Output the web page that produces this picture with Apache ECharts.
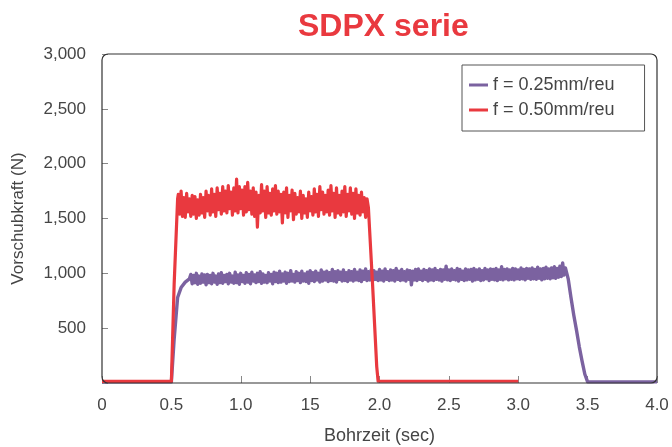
<!DOCTYPE html>
<html>
<head>
<meta charset="utf-8">
<script src="https://cdn.jsdelivr.net/npm/echarts@6/dist/echarts.min.js"></script>
<style>html,body{margin:0;padding:0;background:#fff}#c{width:672px;height:447px}</style>
</head>
<body>
<div id="c"></div>
<script>
var titleText = 'SDPX serie';
var seriesNames = ['f = 0.25mm/reu', 'f = 0.50mm/reu'];
var xTickLabels = ['0', '0.5', '1.0', '15', '2.0', '2.5', '3.0', '3.5', '4.0'];
var yTickValues = [0, 500, 1000, 1500, 2000, 2500, 3000];

// f = 0.50 mm/rev (red): [time s, force N]
var redData = [
[0,14],[0.5,14],[0.52,900],[0.545,1680],
[0.55,1720],[0.56,1540],[0.57,1750],[0.58,1520],[0.59,1690],
[0.60,1510],[0.61,1730],[0.62,1560],[0.63,1680],[0.64,1520],[0.65,1710],[0.66,1540],[0.67,1700],[0.68,1500],[0.69,1670],
[0.70,1530],[0.71,1720],[0.72,1550],[0.73,1690],[0.74,1510],[0.75,1750],[0.76,1570],[0.77,1710],[0.78,1530],[0.79,1770],
[0.80,1560],[0.81,1720],[0.82,1520],[0.83,1780],[0.84,1580],[0.85,1730],[0.86,1540],[0.87,1790],[0.88,1570],[0.89,1750],
[0.90,1550],[0.91,1800],[0.92,1590],[0.93,1740],[0.94,1530],[0.95,1780],[0.96,1570],[0.97,1860],[0.98,1550],[0.99,1790],
[1.00,1590],[1.01,1760],[1.02,1530],[1.03,1790],[1.04,1560],[1.05,1830],[1.06,1580],[1.07,1750],[1.08,1540],[1.09,1780],
[1.10,1520],[1.11,1740],[1.12,1420],[1.13,1710],[1.14,1550],[1.15,1810],[1.16,1570],[1.17,1750],[1.18,1510],[1.19,1790],
[1.20,1550],[1.21,1730],[1.22,1530],[1.23,1770],[1.24,1570],[1.25,1800],[1.26,1540],[1.27,1750],[1.28,1560],[1.29,1720],
[1.30,1460],[1.31,1740],[1.32,1550],[1.33,1780],[1.34,1510],[1.35,1710],[1.36,1570],[1.37,1760],[1.38,1490],[1.39,1730],
[1.40,1540],[1.41,1690],[1.42,1560],[1.43,1750],[1.44,1500],[1.45,1710],[1.46,1550],[1.47,1680],[1.48,1510],[1.49,1740],
[1.50,1570],[1.51,1700],[1.52,1530],[1.53,1770],[1.54,1560],[1.55,1720],[1.56,1520],[1.57,1790],[1.58,1580],[1.59,1740],
[1.60,1540],[1.61,1710],[1.62,1560],[1.63,1760],[1.64,1530],[1.65,1800],[1.66,1570],[1.67,1730],[1.68,1510],[1.69,1780],
[1.70,1550],[1.71,1710],[1.72,1530],[1.73,1750],[1.74,1560],[1.75,1790],[1.76,1520],[1.77,1720],[1.78,1570],[1.79,1780],
[1.80,1540],[1.81,1730],[1.82,1500],[1.83,1770],[1.84,1550],[1.85,1710],[1.86,1530],[1.87,1740],[1.88,1560],[1.89,1690],
[1.90,1510],[1.91,1680],
[1.92,1600],[1.95,900],[1.98,150],[1.99,16],[3.0,16]
];

// f = 0.25 mm/rev (purple): [time s, force N]
var purpleData = [
[0,10],[0.5,10],[0.52,400],[0.545,780],[0.57,870],[0.6,920],[0.63,950],
[0.64,990],[0.65,905],[0.66,980],[0.67,915],[0.68,1000],[0.69,900],
[0.70,975],[0.71,910],[0.72,995],[0.73,920],[0.74,985],[0.75,895],[0.76,990],[0.77,915],[0.78,980],[0.79,905],
[0.80,1000],[0.81,920],[0.82,975],[0.83,900],[0.84,995],[0.85,915],[0.86,1005],[0.87,910],[0.88,980],[0.89,925],
[0.90,990],[0.91,905],[0.92,1000],[0.93,920],[0.94,975],[0.95,910],[0.96,1010],[0.97,915],[0.98,985],[0.99,900],
[1.00,1000],[1.01,925],[1.02,980],[1.03,910],[1.04,1005],[1.05,920],[1.06,990],[1.07,905],[1.08,1010],[1.09,930],
[1.10,985],[1.11,915],[1.12,1000],[1.13,925],[1.14,1015],[1.15,910],[1.16,995],[1.17,920],[1.18,980],[1.19,915],
[1.20,1005],[1.21,930],[1.22,990],[1.23,905],[1.24,1010],[1.25,925],[1.26,1000],[1.27,915],[1.28,1020],[1.29,920],
[1.30,995],[1.31,930],[1.32,1010],[1.33,910],[1.34,1000],[1.35,925],[1.36,1025],[1.37,930],[1.38,990],[1.39,920],
[1.40,1015],[1.41,935],[1.42,1000],[1.43,915],[1.44,1020],[1.45,930],[1.46,995],[1.47,925],[1.48,1010],[1.49,910],
[1.50,1025],[1.51,935],[1.52,1005],[1.53,925],[1.54,1020],[1.55,940],[1.56,1000],[1.57,920],[1.58,1030],[1.59,930],
[1.60,1010],[1.61,940],[1.62,1020],[1.63,925],[1.64,1005],[1.65,935],[1.66,1035],[1.67,930],[1.68,1015],[1.69,920],
[1.70,1025],[1.71,945],[1.72,1010],[1.73,930],[1.74,1030],[1.75,935],[1.76,1005],[1.77,925],[1.78,1025],[1.79,940],
[1.80,1015],[1.81,930],[1.82,1035],[1.83,940],[1.84,1010],[1.85,935],[1.86,1030],[1.87,925],[1.88,1020],[1.89,945],
[1.90,1040],[1.91,935],[1.92,1015],[1.93,940],[1.94,1030],[1.95,930],[1.96,1025],[1.97,945],[1.98,1010],[1.99,935],
[2.00,1035],[2.01,940],[2.02,1020],[2.03,930],[2.04,1040],[2.05,945],[2.06,1015],[2.07,935],[2.08,1030],[2.09,940],
[2.10,1025],[2.11,930],[2.12,1045],[2.13,945],[2.14,1020],[2.15,935],[2.16,1035],[2.17,940],[2.18,1015],[2.19,930],
[2.20,1030],[2.21,945],[2.22,1025],[2.23,895],[2.24,1020],[2.25,940],[2.26,1035],[2.27,935],[2.28,1040],[2.29,945],
[2.30,1020],[2.31,935],[2.32,1035],[2.33,945],[2.34,1025],[2.35,930],[2.36,1040],[2.37,940],[2.38,1030],[2.39,935],
[2.40,1045],[2.41,945],[2.42,1025],[2.43,940],[2.44,1035],[2.45,930],[2.46,1030],[2.47,945],[2.48,1065],[2.49,940],
[2.50,1030],[2.51,935],[2.52,1040],[2.53,945],[2.54,1025],[2.55,940],[2.56,1045],[2.57,930],[2.58,1035],[2.59,945],
[2.60,1020],[2.61,935],[2.62,1040],[2.63,940],[2.64,1030],[2.65,945],[2.66,1035],[2.67,930],[2.68,1045],[2.69,940],
[2.70,1030],[2.71,945],[2.72,1040],[2.73,935],[2.74,1025],[2.75,940],[2.76,1045],[2.77,950],[2.78,1030],[2.79,935],
[2.80,1040],[2.81,945],[2.82,1035],[2.83,940],[2.84,1045],[2.85,935],[2.86,1030],[2.87,945],[2.88,1060],[2.89,940],
[2.90,1035],[2.91,950],[2.92,1040],[2.93,940],[2.94,1030],[2.95,945],[2.96,1045],[2.97,940],[2.98,1040],[2.99,950],
[3.00,1030],[3.01,945],[3.02,1050],[3.03,950],[3.04,1035],[3.05,940],[3.06,1045],[3.07,955],[3.08,1040],[3.09,945],
[3.10,1050],[3.11,950],[3.12,1035],[3.13,945],[3.14,1055],[3.15,955],[3.16,1040],[3.17,940],[3.18,1045],[3.19,950],
[3.20,1055],[3.21,955],[3.22,1040],[3.23,950],[3.24,1050],[3.25,960],[3.26,1060],[3.27,955],[3.28,1045],[3.29,965],
[3.30,1065],[3.31,970],[3.32,1095],[3.33,985],[3.34,1050],
[3.36,950],[3.38,780],[3.40,620],[3.42,480],[3.44,330],[3.46,200],[3.48,80],[3.50,10],[4.0,10]
];

var RED = '#E9393F', PURPLE = '#7B62A0', TXT = '#454545';
var FONT = '"Liberation Sans", Arial, sans-serif';

var chart = echarts.init(document.getElementById('c'), null, {renderer: 'canvas'});
chart.setOption({
  animation: false,
  backgroundColor: '#fff',
  title: {
    text: titleText, left: 293, top: 6,
    textStyle: {color: RED, fontSize: 32, fontWeight: 'bold', fontFamily: FONT}
  },
  grid: {left: 102, right: 15, top: 54, bottom: 64, show: false, containLabel: false, outerBoundsMode: 'none'},
  graphic: [{
    type: 'rect', z: 10, silent: true,
    shape: {x: 102, y: 54, width: 555, height: 329, r: 6},
    style: {fill: 'none', stroke: '#333', lineWidth: 1.2}
  }],
  legend: {
    orient: 'vertical', left: 462, top: 65,
    padding: [11, 30, 12, 7], itemGap: 7,
    borderColor: '#555', borderWidth: 1, backgroundColor: '#fff',
    icon: 'rect', itemWidth: 19, itemHeight: 3,
    textStyle: {fontSize: 18, color: TXT, fontFamily: FONT},
    data: [seriesNames[0], seriesNames[1]]
  },
  xAxis: {
    type: 'value', min: 0, max: 4, interval: 0.5,
    name: 'Bohrzeit (sec)', nameLocation: 'middle', nameGap: 44,
    nameTextStyle: {fontSize: 18, color: TXT, fontFamily: FONT},
    axisLine: {show: false},
    axisTick: {show: true, inside: true, length: 7, lineStyle: {color: '#888'}},
    splitLine: {show: false},
    axisLabel: {
      margin: 14, fontSize: 17, color: TXT, fontFamily: FONT,
      formatter: function (v) { return xTickLabels[Math.round(v / 0.5)]; }
    }
  },
  yAxis: {
    type: 'value', min: yTickValues[0], max: yTickValues[yTickValues.length - 1], interval: 500,
    name: 'Vorschubkraft (N)', nameLocation: 'middle', nameGap: 75,
    nameTextStyle: {fontSize: 17, color: TXT, fontFamily: FONT},
    axisLine: {show: false},
    axisTick: {show: true, inside: true, length: 6, lineStyle: {color: '#888'}},
    splitLine: {show: false},
    axisLabel: {
      margin: 16, fontSize: 17, color: TXT, fontFamily: FONT,
      formatter: function (v) { return v === 0 ? '' : v.toLocaleString('en-US'); }
    }
  },
  series: [
    {name: seriesNames[0], type: 'line', data: purpleData, showSymbol: false, symbol: 'none',
     lineStyle: {color: PURPLE, width: 3.4, join: 'round'}, itemStyle: {color: PURPLE}, z: 2},
    {name: seriesNames[1], type: 'line', data: redData, showSymbol: false, symbol: 'none',
     lineStyle: {color: RED, width: 3.2, join: 'round'}, itemStyle: {color: RED}, z: 3}
  ]
});
</script>
</body>
</html>
